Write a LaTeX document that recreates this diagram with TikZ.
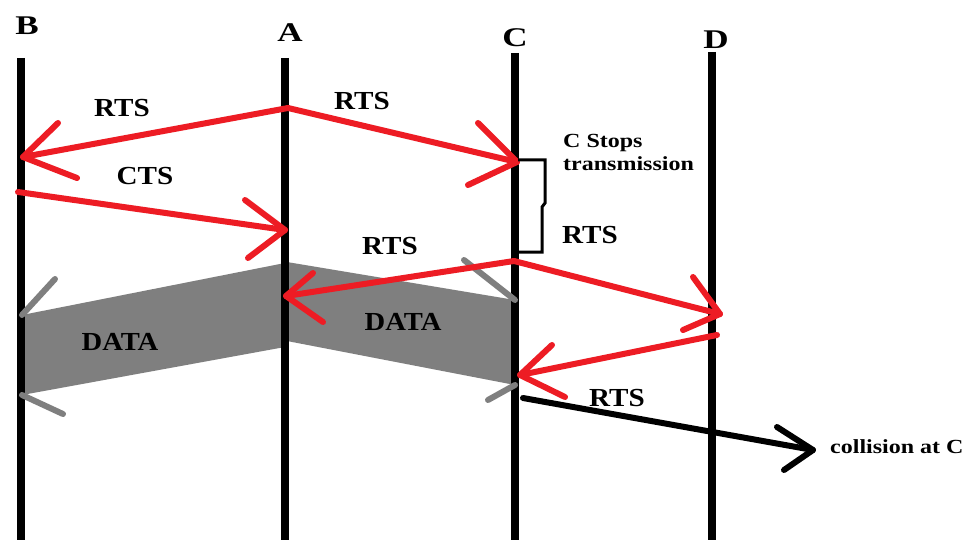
\documentclass[tikz,border=0pt]{standalone}
\usepackage{fontspec}
\usepackage{graphicx}
\setmainfont{Liberation Serif}
\definecolor{pred}{RGB}{237,28,36}
\definecolor{pgray}{RGB}{127,127,127}
\begin{document}
\begin{tikzpicture}[x=1pt,y=-1pt,
  life/.style={line width=8pt, black},
  redarr/.style={line width=6pt, pred, line cap=round, line join=round},
  grayarm/.style={line width=6pt, pgray, line cap=round},
  blk/.style={line width=6pt, black, line cap=round, line join=round},
  bracket/.style={line width=3pt, black, line join=miter},
  letter/.style={font=\fontsize{27}{29}\selectfont\bfseries, inner sep=0pt},
  big/.style={font=\fontsize{26}{28}\selectfont\bfseries, inner sep=0pt},
  small/.style={font=\fontsize{20}{22}\selectfont\bfseries, inner sep=0pt},
]
\useasboundingbox[fill=white] (0,0) rectangle (971,540);

% DATA shapes (behind lifelines)
\fill[pgray] (285,263) -- (22,315) -- (22,395) -- (285,347) -- cycle;
\fill[pgray] (287,262) -- (515,300) -- (515,385) -- (287,341) -- cycle;

% lifelines
\coordinate (Btop) at (21,58);  \coordinate (Bbot) at (21,540);
\coordinate (Atop) at (285,58); \coordinate (Abot) at (285,540);
\coordinate (Ctop) at (515,53); \coordinate (Cbot) at (515,540);
\coordinate (Dtop) at (712,52); \coordinate (Dbot) at (712,540);
\draw[life] (Btop) -- (Bbot);
\draw[life] (Atop) -- (Abot);
\draw[life] (Ctop) -- (Cbot);
\draw[life] (Dtop) -- (Dbot);

\node[letter] (labB) at (27,26) {\scalebox{1.3}[1]{B}};
\node[letter] (labA) at (290,33) {\scalebox{1.3}[1]{A}};
\node[letter] (labC) at (515,38) {\scalebox{1.3}[1]{C}};
\node[letter] (labD) at (716,40) {\scalebox{1.3}[1]{D}};

% gray arrow arms
\coordinate (dBt) at (22,315); \coordinate (dBb) at (22,395);
\coordinate (dCt) at (515,300); \coordinate (dCb) at (515,385);
\draw[grayarm] (dBt) -- (55,279);
\draw[grayarm] (dBb) -- (63,414);
\draw[grayarm] (dCt) -- (464,260);
\draw[grayarm] (dCb) -- (488,400);

% red arrows
\coordinate (a1) at (288,108);
\coordinate (b1) at (23,157);
\coordinate (c1) at (517,162);
\draw[redarr] (a1) -- (b1);
\draw[redarr] (58,123) -- (b1) -- (77,178);
\draw[redarr] (a1) -- (c1);
\draw[redarr] (478,123) -- (c1) -- (468,185);

\coordinate (b2) at (18,192);
\coordinate (a2) at (285,230);
\draw[redarr] (b2) -- (a2);
\draw[redarr] (245,200) -- (a2) -- (248,258);

\coordinate (c3) at (514,261);
\coordinate (a3) at (286,296);
\coordinate (d3) at (720,314);
\draw[redarr] (c3) -- (a3);
\draw[redarr] (313,273) -- (a3) -- (323,322);
\draw[redarr] (c3) -- (d3);
\draw[redarr] (693,277) -- (d3) -- (683,330);

\coordinate (d4) at (717,335);
\coordinate (c4) at (520,375);
\draw[redarr] (d4) -- (c4);
\draw[redarr] (552,345) -- (c4) -- (565,397);

% black collision arrow
\coordinate (c5) at (523,398);
\coordinate (x5) at (813,450);
\draw[blk] (c5) -- (x5);
\draw[blk] (777,427) -- (x5) -- (784,470);

% bracket
\draw[bracket] (518,160) -- (545,160) -- (545,203) -- (542,207) -- (542,252) -- (518,252);

% labels
\node[big] (rts1) at (122,108) {\scalebox{1.12}[1]{RTS}};
\node[big] (rts2) at (362,101) {\scalebox{1.12}[1]{RTS}};
\node[big] (cts) at (145,176) {\scalebox{1.12}[1]{CTS}};
\node[big] (rts3) at (590,235) {\scalebox{1.12}[1]{RTS}};
\node[big] (rts4) at (390,246) {\scalebox{1.12}[1]{RTS}};
\node[big] (dataL) at (120,342) {\scalebox{1.1}[1]{DATA}};
\node[big] (dataR) at (403,322) {\scalebox{1.1}[1]{DATA}};
\node[big] (rts5) at (617,398) {\scalebox{1.12}[1]{RTS}};

\node[small, anchor=base west] (stop1) at (563,148) {\scalebox{1.2}[1]{C Stops}};
\node[small, anchor=base west] (stop2) at (563,171) {\scalebox{1.2}[1]{transmission}};
\node[small, anchor=base west] (coll) at (830,453) {\scalebox{1.2}[1]{collision at C}};
\end{tikzpicture}
\end{document}
